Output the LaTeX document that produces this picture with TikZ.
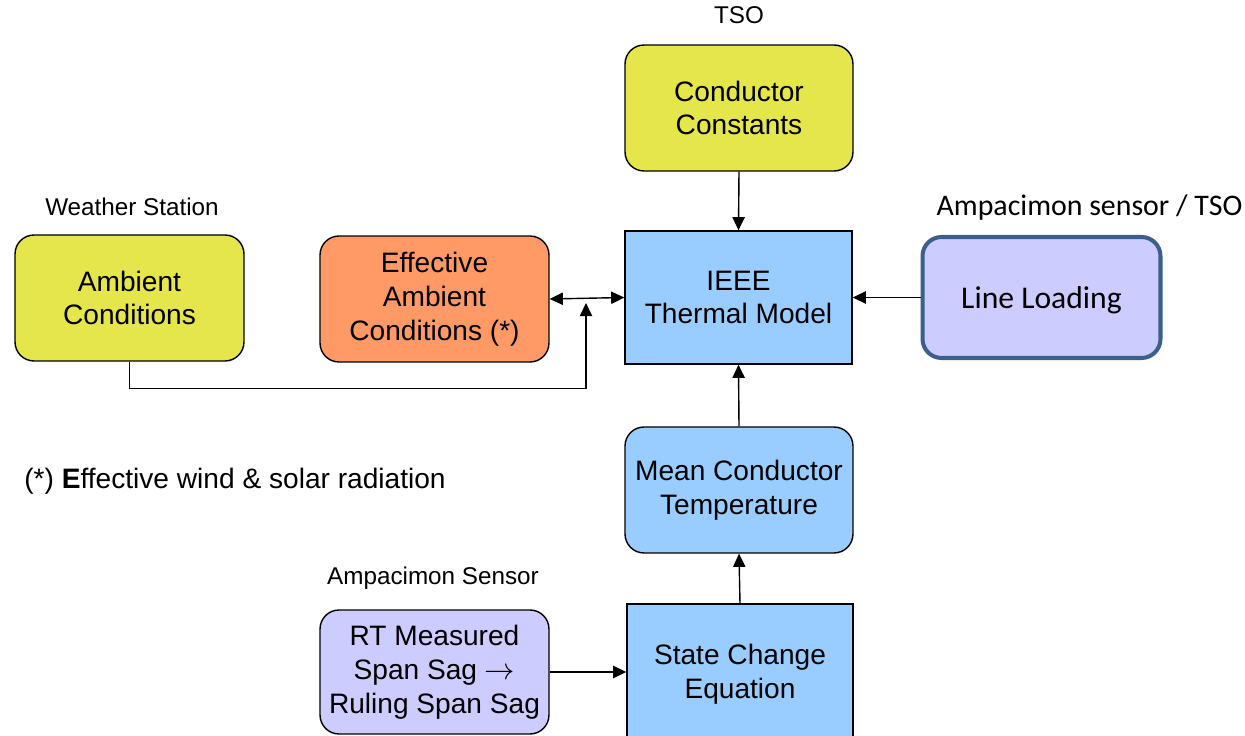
\documentclass[tikz,border=0pt]{standalone}
\usepackage{fontspec}
\setmainfont{Liberation Sans}
\newfontfamily\carlito{Carlito}
\usetikzlibrary{arrows.meta}
\definecolor{cyel}{RGB}{229,229,76}
\definecolor{corg}{RGB}{255,153,102}
\definecolor{cblu}{RGB}{153,204,255}
\definecolor{clav}{RGB}{204,204,255}
\definecolor{cbrd}{RGB}{58,95,139}
\tikzset{
  box/.style={draw=black, line width=0.8pt, align=center, font=\fontsize{16}{19.3}\selectfont, inner sep=0pt},
  rbox/.style={box, rounded corners=0.38cm},
  lbl/.style={font=\fontsize{13.8}{16}\selectfont, inner sep=0pt},
  arr/.style={line width=0.8pt, -{Triangle[length=7.5pt,width=7pt]}},
  darr/.style={line width=0.8pt, {Triangle[length=7.5pt,width=7pt]}-{Triangle[length=7.5pt,width=7pt]}}
}
\begin{document}
\begin{tikzpicture}[x=0.02cm,y=-0.02cm]
\useasboundingbox (0,0) rectangle (1245,736);
\clip (0,0) rectangle (1245,736);
\node[lbl] (tso) at (739,15) {TSO};
\node[rbox, fill=cyel, minimum width=4.56cm, minimum height=2.52cm] (cc) at (739,108) {Conductor\\Constants};
\node[lbl] (ws) at (132,207) {Weather Station};
\node[rbox, fill=cyel, minimum width=4.58cm, minimum height=2.52cm] (amb) at (129.5,298) {Ambient\\Conditions};
\node[rbox, fill=corg, minimum width=4.58cm, minimum height=2.52cm] (eff) at (434.5,299) {Effective\\Ambient\\Conditions (*)};
\node[box, fill=cblu, minimum width=4.54cm, minimum height=2.66cm] (ieee) at (738.5,297.5) {IEEE\\Thermal Model};
\node[font=\carlito\fontsize{17}{20}\selectfont, inner sep=0pt] (als) at (1089.5,208) {Ampacimon sensor / TSO};
\node[box, draw=cbrd, line width=2.3pt, rounded corners=0.38cm, fill=clav, minimum width=4.76cm, minimum height=2.42cm, text depth=0pt, font=\carlito\fontsize{18}{21}\selectfont] (ll) at (1041.5,297.5) {Line Loading};
\node[font=\fontsize{16}{19.3}\selectfont, inner sep=0pt, anchor=west] (note) at (24,481) {(*) \textbf{E}ffective wind \& solar radiation};
\node[rbox, fill=cblu, minimum width=4.56cm, minimum height=2.52cm] (mct) at (739,490) {Mean Conductor\\Temperature};
\node[lbl] (as) at (433,578) {Ampacimon Sensor};
\node[rbox, fill=clav, minimum width=4.58cm, minimum height=2.48cm] (rt) at (434.5,672) {RT Measured\\Span Sag $\rightarrow$\\Ruling Span Sag};
\node[box, fill=cblu, minimum width=4.52cm, minimum height=3.12cm] (sce) at (740,682) {};
\node[font=\fontsize{16}{19.3}\selectfont, align=center, inner sep=0pt] (scet) at (740,674) {State Change\\Equation};
\coordinate (j) at (586,303);
\draw[arr] (cc.south) -- (ieee.north);
\draw[arr] (ll.west) -- (ieee.east);
\draw[darr] (eff.east) -- (ieee.west);
\draw[arr] (amb.south) -- ++(0,27) -| (j);
\draw[arr] (mct.north) -- (ieee.south);
\draw[arr] (sce.north) -- (mct.south);
\draw[arr] (rt.east) -- (sce.west |- rt.east);
\end{tikzpicture}
\end{document}
